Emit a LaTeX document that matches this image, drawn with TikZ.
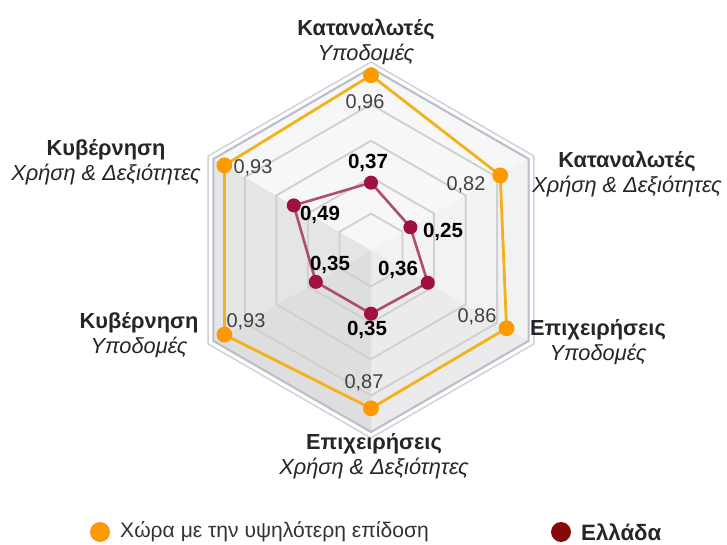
\documentclass[tikz,border=0pt]{standalone}
\usepackage{fontspec}
\setmainfont{Liberation Sans}
\usetikzlibrary{positioning}
\definecolor{bestline}{RGB}{242,178,28}
\definecolor{bestorange}{RGB}{255,153,0}
\definecolor{grline}{RGB}{172,78,108}
\definecolor{grdot}{RGB}{160,18,62}
\definecolor{legmaroon}{RGB}{135,8,10}
\definecolor{ringline}{RGB}{208,208,208}
\definecolor{rimline}{RGB}{182,192,206}
\begin{document}
\begin{tikzpicture}[x=0.03cm,y=0.03cm,
    cat/.style={align=center,font=\fontsize{18.6}{21}\selectfont,text=black!85},
    val/.style={font=\fontsize{17}{20}\selectfont,text=black!75},
    grval/.style={font=\fontsize{17.5}{20}\selectfont\bfseries},
    bestdot/.style={circle,fill=bestorange,inner sep=0pt,minimum size=13.5pt},
    grdotstyle/.style={circle,fill=grdot,inner sep=0pt,minimum size=12pt},
    legdot/.style={circle,inner sep=0pt,minimum size=17pt}]
    \useasboundingbox (-371,-295) rectangle (356,250);
    \fill[white] (-371,-295) rectangle (356,250);
    % grid
    \foreach \a/\p in {90/3,30/5,-30/8,-90/13,-150/10,150/3}
    \fill[black!\p] (0,0) -- (\a:182) -- (\a-60:182) -- cycle;
    \foreach \r in {36.4,72.8,109.2,145.6}
    \draw[ringline,line width=1.6pt] (90:\r) -- (30:\r) -- (-30:\r) -- (-90:\r) -- (-150:\r) -- (150:\r) -- cycle;
    \draw[ringline,line width=1.2pt] (90:188) -- (30:188) -- (-30:188) -- (-90:188) -- (-150:188) -- (150:188) -- cycle;
    \draw[rimline,line width=1.8pt] (90:182) -- (30:182) -- (-30:182) -- (-90:182) -- (-150:182) -- (150:182) -- cycle;
    % data
    \foreach \v [count=\i] in {0.96,0.82,0.86,0.87,0.93,0.93}
    \coordinate (b\i) at ({150-60*\i}:{182*\v});
    \foreach \v [count=\i] in {0.37,0.25,0.36,0.35,0.35,0.49}
    \coordinate (g\i) at ({150-60*\i}:{182*\v});
    \draw[bestline,line width=2.4pt,line join=round] (b1) -- (b2) -- (b3) -- (b4) -- (b5) -- (b6) -- cycle;
    \draw[grline,line width=2.2pt,line join=round] (g1) -- (g2) -- (g3) -- (g4) -- (g5) -- (g6) -- cycle;
    \foreach \i in {1,...,6} {
        \node[bestdot] (bd\i) at (b\i) {};
        \node[grdotstyle] (gd\i) at (g\i) {};
    }
    % values
    \node[val] (v1) at (-6,147) {0,96};
    \node[val] (v2) at (95,65) {0,82};
    \node[val] (v3) at (106,-67) {0,86};
    \node[val] (v4) at (-7,-133) {0,87};
    \node[val] (v5) at (-125,-72) {0,93};
    \node[val] (v6) at (-118,82) {0,93};
    \node[grval] (gv1) at (-3,87) {0,37};
    \node[grval] (gv2) at (72,18) {0,25};
    \node[grval] (gv3) at (27,-20) {0,36};
    \node[grval] (gv4) at (-4,-80) {0,35};
    \node[grval] (gv5) at (-41,-15) {0,35};
    \node[grval] (gv6) at (-51,35) {0,49};
    % axis labels
    \node[cat] (lab1) at (-5,208) {{\bfseries Καταναλωτές}\\{\itshape Υποδομές}};
    \node[cat] (lab2) at (256,76) {{\bfseries Καταναλωτές}\\{\itshape Χρήση \& Δεξιότητες}};
    \node[cat] (lab3) at (227,-92) {{\bfseries Επιχειρήσεις}\\{\itshape Υποδομές}};
    \node[cat] (lab4) at (3,-206) {{\bfseries Επιχειρήσεις}\\{\itshape Χρήση \& Δεξιότητες}};
    \node[cat] (lab5) at (-232,-85) {{\bfseries Κυβέρνηση}\\{\itshape Υποδομές}};
    \node[cat] (lab6) at (-265,88) {{\bfseries Κυβέρνηση}\\{\itshape Χρήση \& Δεξιότητες}};
    % legend
    \node[legdot,fill=bestorange] (legb) at (-271,-282) {};
    \node[right=5pt of legb,val,font=\fontsize{18}{20}\selectfont,text=black!80] (legbt) {Χώρα με την υψηλότερη επίδοση};
    \node[legdot,fill=legmaroon] (legg) at (190,-282) {};
    \node[right=5pt of legg,grval,font=\fontsize{19}{20}\selectfont\bfseries,text=black!85] (leggt) {Ελλάδα};
\end{tikzpicture}
\end{document}
